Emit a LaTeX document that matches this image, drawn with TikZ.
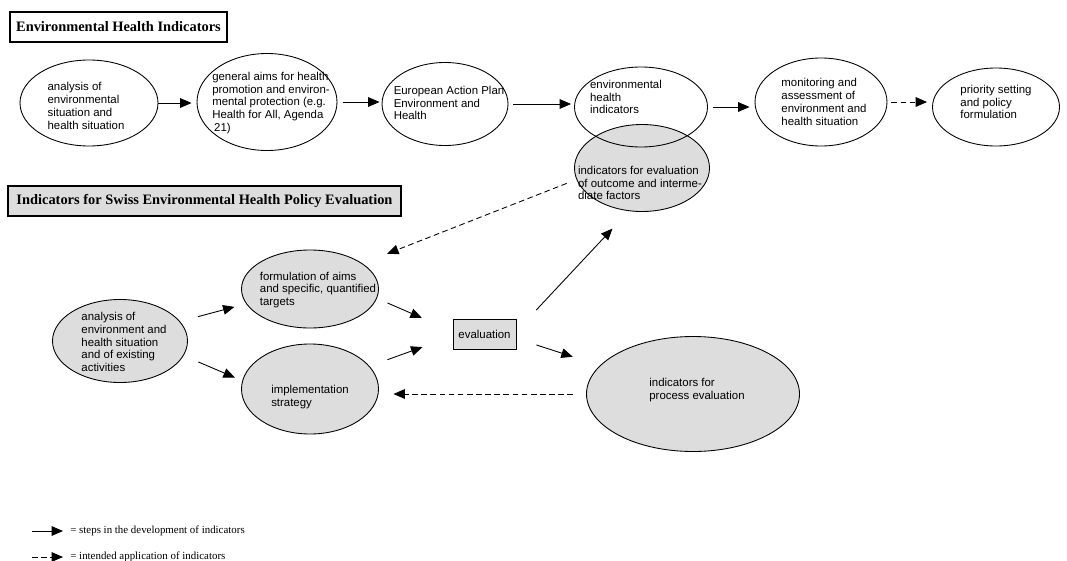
\documentclass[tikz,border=0pt]{standalone}
\usepackage{fontspec}
\setmainfont{Liberation Serif}
\setsansfont{Liberation Sans}
\usepackage{tikz}
\usetikzlibrary{shapes.geometric, arrows.meta}
\definecolor{cinza}{RGB}{221,221,221}

\begin{document}
\begin{tikzpicture}[
  oval/.style={ellipse, draw, line width=0.5pt, inner sep=0pt},
  txt/.style={align=left, inner sep=0pt, font=\sffamily\fontsize{6.5}{7.3}\selectfont},
  titulo/.style={draw, line width=0.6pt, inner sep=0pt, font=\bfseries\fontsize{8.2}{9.5}\selectfont},
  passo/.style={-{Triangle[length=6.5pt,width=5.5pt]}, line width=0.5pt},
  uso/.style={passo, dash pattern=on 3.2pt off 2pt}
]
  \useasboundingbox (0,0) rectangle (21.34,-11.2);

  % Titulos
  \node[titulo, minimum width=4.34cm, minimum height=0.60cm] (tit1) at (2.37,-0.54) {Environmental Health Indicators};
  \node[titulo, fill=cinza, minimum width=7.86cm, minimum height=0.60cm] (tit2) at (4.09,-4.02) {Indicators for Swiss Environmental Health Policy Evaluation};

  % Linha superior
  \node[oval, minimum width=2.76cm, minimum height=1.72cm] (analysis) at (1.78,-2.06) {};
  \node[txt] (analysis-t) at (1.72,-2.12) {analysis of\\environmental\\situation and\\health situation};

  \node[oval, minimum width=2.80cm, minimum height=1.94cm] (aims) at (5.34,-2.04) {};
  \node[txt] (aims-t) at (5.42,-2.06) {general aims for health\\promotion and environ-\\mental protection (e.g.\\Health for All, Agenda\\\,21)};

  \node[oval, minimum width=2.52cm, minimum height=1.66cm] (plan) at (8.90,-2.08) {};
  \node[txt] (plan-t) at (8.98,-2.06) {European Action Plan\\Environment and\\Health};

  \node[oval, fill=cinza, minimum width=2.70cm, minimum height=1.74cm] (outcome) at (12.84,-3.36) {};
  \node[oval, minimum width=2.66cm, minimum height=1.60cm] (ehi) at (12.82,-2.14) {};
  \node[txt] (ehi-t) at (12.52,-1.94) {environmental\\health\\indicators};
  \node[txt] (outcome-t) at (12.80,-3.66) {indicators for evaluation\\of outcome and interme-\\diate factors};

  \node[oval, minimum width=2.64cm, minimum height=1.76cm] (monitor) at (16.42,-2.04) {};
  \node[txt] (monitor-t) at (16.48,-2.04) {monitoring and\\assessment of\\environment and\\health situation};

  \node[oval, minimum width=2.54cm, minimum height=1.56cm] (priority) at (19.92,-2.14) {};
  \node[txt] (priority-t) at (19.92,-2.04) {priority setting\\and policy\\formulation};

  % Setas da linha superior
  \draw[passo, shorten >=0.1cm] (analysis.east) -- (analysis.east -| aims.west);
  \draw[passo, shorten <=0.12cm, shorten >=0.04cm] (aims.east) -- (aims.east -| plan.west);
  \draw[passo, shorten <=0.1cm, shorten >=0.06cm] (plan.east) -- (plan.east -| ehi.west);
  \draw[passo, shorten <=0.1cm, shorten >=0.1cm] (ehi.east) -- (ehi.east -| monitor.west);
  \draw[uso, shorten <=0.08cm, shorten >=0.1cm] (monitor.east) -- (monitor.east -| priority.west);

  % Avaliacao da politica
  \node[oval, fill=cinza, minimum width=2.70cm, minimum height=1.66cm] (sanalysis) at (2.40,-6.82) {};
  \node[txt] (sanalysis-t) at (2.48,-6.84) {analysis of\\environment and\\health situation\\and of existing\\activities};

  \node[oval, fill=cinza, minimum width=2.74cm, minimum height=1.56cm] (formul) at (6.20,-5.78) {};
  \node[txt] (formul-t) at (6.36,-5.80) {formulation of aims\\and specific, quantified\\targets};

  \node[oval, fill=cinza, minimum width=2.74cm, minimum height=1.80cm] (implem) at (6.20,-7.78) {};
  \node[txt] (implem-t) at (6.20,-7.94) {implementation\\strategy};

  \node[draw, fill=cinza, line width=0.5pt, minimum width=1.26cm, minimum height=0.60cm, inner sep=0pt,
        font=\sffamily\fontsize{6.5}{7.3}\selectfont] (eval) at (9.69,-6.68) {evaluation};

  \node[oval, fill=cinza, minimum width=4.26cm, minimum height=2.30cm] (process) at (13.86,-7.88) {};
  \node[txt] (process-t) at (13.94,-7.80) {indicators for\\process evaluation};

  % Setas de baixo
  \draw[passo, shorten <=0.37cm, shorten >=0.24cm] (sanalysis.18) -- (formul.193);
  \draw[passo, shorten <=0.32cm, shorten >=0.16cm] (sanalysis.-13) -- (implem.173);
  \draw[passo, shorten <=0.23cm, shorten >=0.67cm] (formul.-8) -- (eval.175);
  \draw[passo, shorten <=0.38cm, shorten >=0.64cm] (implem.21) -- (eval.184);
  \draw[passo, shorten <=0.58cm, shorten >=0.48cm] (eval.5) -- (outcome.-107);
  \draw[passo, shorten <=0.42cm, shorten >=0.57cm] (eval.-8) -- (process.163);
  \draw[uso, shorten <=0.26cm, shorten >=0.29cm] (process.west) -- (process.west -| implem.east);
  \draw[uso, shorten <=0.21cm, shorten >=0.53cm] (outcome.190) -- (formul.26);

  % Legenda
  \coordinate (key1) at (0.64,-10.62);
  \node[anchor=west, inner sep=0pt, font=\fontsize{6.2}{7}\selectfont] (key1-t) at (1.40,-10.62) {= steps in the development of indicators};
  \draw[passo, shorten >=0.14cm] (key1) -- (key1-t.west);

  \coordinate (key2) at (0.64,-11.14);
  \node[anchor=west, inner sep=0pt, font=\fontsize{6.2}{7}\selectfont] (key2-t) at (1.40,-11.14) {= intended application of indicators};
  \draw[uso, shorten >=0.14cm] (key2) -- (key2-t.west);
\end{tikzpicture}
\end{document}
